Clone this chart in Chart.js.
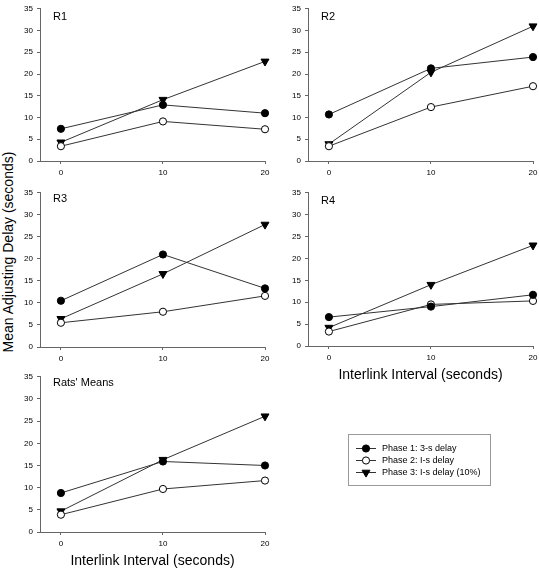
<!DOCTYPE html>
<html lang="en">
<head>
  <meta charset="UTF-8">
  <title>Mean Adjusting Delay</title>
  <script src="https://cdn.jsdelivr.net/npm/chart.js"></script>
  <style>
    body { margin: 0; background: #fff; font-family: "Liberation Sans", Arial, sans-serif; }
    #wrap { position: relative; width: 539px; height: 570px; overflow: hidden; }
    canvas { position: absolute; }
    #ytitle {
      position: absolute; left: 8px; top: 252px;
      transform: translate(-50%, -50%) rotate(-90deg);
      font-size: 14px; white-space: nowrap; color: #000;
    }
  </style>
</head>
<body>
<div id="wrap">
  <div id="ytitle">Mean Adjusting Delay (seconds)</div>
  <canvas id="r1" width="275" height="180" style="left:0;top:0"></canvas>
  <canvas id="r2" width="275" height="180" style="left:268px;top:0"></canvas>
  <canvas id="r3" width="275" height="182" style="left:0;top:184px"></canvas>
  <canvas id="r4" width="275" height="200" style="left:268px;top:184px"></canvas>
  <canvas id="rm" width="539" height="202" style="left:0;top:368px"></canvas>
</div>

<script>
  // interlink interval (x) values
  const intervals = [0, 10, 20];
  const yTicks = [0, 5, 10, 15, 20, 25, 30, 35];
  const seriesNames = ['Phase 1: 3-s delay', 'Phase 2: I-s delay', 'Phase 3: I-s delay (10%)'];
  const xTitle = 'Interlink Interval (seconds)';

  // mean adjusting delay per rat, one array per phase
  const r1Phase1 = [7.4, 12.9, 11.0];
  const r1Phase2 = [3.4, 9.1, 7.3];
  const r1Phase3 = [4.3, 14.1, 22.9];

  const r2Phase1 = [10.7, 21.3, 23.9];
  const r2Phase2 = [3.4, 12.4, 17.2];
  const r2Phase3 = [3.9, 20.4, 31.0];

  const r3Phase1 = [10.5, 21.0, 13.3];
  const r3Phase2 = [5.5, 8.0, 11.6];
  const r3Phase3 = [6.4, 16.6, 27.8];

  const r4Phase1 = [6.6, 9.0, 11.7];
  const r4Phase2 = [3.3, 9.5, 10.3];
  const r4Phase3 = [4.2, 14.0, 23.0];

  const meanPhase1 = [8.8, 15.9, 15.0];
  const meanPhase2 = [3.9, 9.7, 11.6];
  const meanPhase3 = [4.7, 16.3, 26.1];

  const FONT = '"Liberation Sans", Arial, sans-serif';
  const AXIS = '#666';

  const markers = [
    { pointStyle: 'circle', pointRadius: 3.6, pointBackgroundColor: '#000', pointRotation: 0 },
    { pointStyle: 'circle', pointRadius: 3.6, pointBackgroundColor: '#fff', pointRotation: 0 },
    { pointStyle: 'triangle', pointRadius: 4.6, pointBackgroundColor: '#000', pointRotation: 180 }
  ];

  function drawMarker(ctx, i, x, y) {
    const m = markers[i];
    ctx.save();
    ctx.fillStyle = m.pointBackgroundColor;
    ctx.strokeStyle = '#000';
    ctx.lineWidth = 1;
    ctx.beginPath();
    if (m.pointStyle === 'circle') {
      ctx.arc(x, y, m.pointRadius, 0, Math.PI * 2);
    } else {
      const r = m.pointRadius;
      ctx.moveTo(x, y + r);
      ctx.lineTo(x - r * 0.866, y - r / 2);
      ctx.lineTo(x + r * 0.866, y - r / 2);
      ctx.closePath();
    }
    ctx.fill();
    ctx.stroke();
    ctx.restore();
  }

  const panelLabel = {
    id: 'panelLabel',
    afterDraw(chart, args, opts) {
      const { ctx, chartArea } = chart;
      ctx.save();
      ctx.fillStyle = '#000';
      ctx.font = '11px ' + FONT;
      ctx.textBaseline = 'middle';
      ctx.fillText(opts.text, chartArea.left + 13, chartArea.top + opts.dy);
      ctx.restore();
    }
  };

  const boxLegend = {
    id: 'boxLegend',
    afterDraw(chart, args, opts) {
      if (!opts.show) return;
      const ctx = chart.ctx;
      ctx.save();
      ctx.strokeStyle = '#999';
      ctx.lineWidth = 1;
      ctx.strokeRect(348.5, 66.5, 142, 51);
      const rows = [80, 92, 104];
      seriesNames.forEach((name, i) => {
        const y = rows[i];
        ctx.strokeStyle = '#333';
        ctx.beginPath();
        ctx.moveTo(356, y + 0.5);
        ctx.lineTo(376, y + 0.5);
        ctx.stroke();
        drawMarker(ctx, i, 366, y + 0.5);
        ctx.fillStyle = '#000';
        ctx.font = '9px ' + FONT;
        ctx.textBaseline = 'middle';
        ctx.fillText(name, 382, y + 0.5);
      });
      ctx.restore();
    }
  };

  function makePanel(id, label, labelDy, series, opt) {
    const datasets = series.map((vals, i) => ({
      label: seriesNames[i],
      data: intervals.map((x, j) => ({ x, y: vals[j] })),
      borderColor: '#333',
      borderWidth: 1,
      pointBorderColor: '#000',
      pointBorderWidth: 1,
      ...markers[i],
      tension: 0,
      clip: false
    }));

    new Chart(document.getElementById(id), {
      type: 'line',
      data: { datasets },
      plugins: [panelLabel, boxLegend],
      options: {
        responsive: false,
        animation: false,
        events: [],
        layout: { padding: { top: 5, right: opt.padRight || 10, left: 0, bottom: 0 } },
        plugins: {
          legend: { display: false },
          tooltip: { enabled: false },
          panelLabel: { text: label, dy: labelDy },
          boxLegend: { show: !!opt.legend }
        },
        scales: {
          x: {
            type: 'linear',
            min: -2.05,
            max: 20,
            afterBuildTicks: s => { s.ticks = intervals.map(v => ({ value: v })); },
            ticks: { font: { size: 8, family: FONT }, color: '#000', padding: 4, maxRotation: 0 },
            grid: { drawOnChartArea: false, tickLength: 3, color: AXIS },
            border: { color: AXIS },
            title: {
              display: !!opt.xTitle,
              text: xTitle,
              font: { size: 14, family: FONT },
              color: '#000',
              padding: 0
            },
            afterFit: s => { s.height = opt.xHeight; }
          },
          y: {
            min: 0,
            max: 35,
            afterBuildTicks: s => { s.ticks = yTicks.map(v => ({ value: v })); },
            ticks: { font: { size: 8, family: FONT }, color: '#000', padding: 4 },
            grid: { drawOnChartArea: false, tickLength: 3, color: AXIS },
            border: { color: AXIS },
            afterFit: s => { s.width = 40; }
          }
        }
      }
    });
  }

  makePanel('r1', 'R1', 8, [r1Phase1, r1Phase2, r1Phase3], { xHeight: 19 });
  makePanel('r2', 'R2', 8, [r2Phase1, r2Phase2, r2Phase3], { xHeight: 19 });
  makePanel('r3', 'R3', 6, [r3Phase1, r3Phase2, r3Phase3], { xHeight: 19 });
  makePanel('r4', 'R4', 8, [r4Phase1, r4Phase2, r4Phase3], { xHeight: 38, xTitle: true });
  makePanel('rm', "Rats' Means", 6, [meanPhase1, meanPhase2, meanPhase3], { xHeight: 38, xTitle: true, legend: true, padRight: 274 });
</script>
</body>
</html>
